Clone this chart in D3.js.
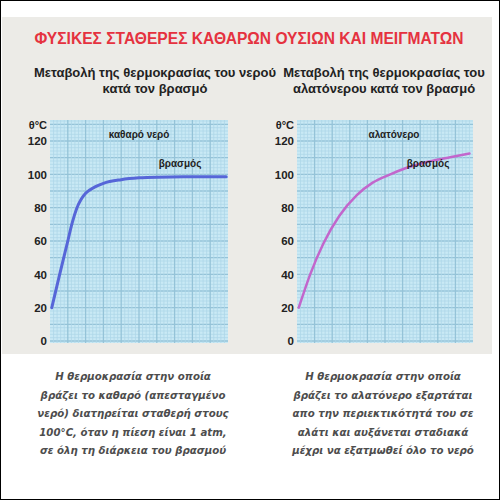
<!DOCTYPE html>
<html>
<head>
<meta charset="utf-8">
<script src="https://cdn.jsdelivr.net/npm/d3@7"></script>
<style>
body{margin:0;background:#fff;}
svg{display:block;}
</style>
</head>
<body>
<svg id="c" width="500" height="500"></svg>
<script>
// ---- data ----
const title = "ΦΥΣΙΚΕΣ ΣΤΑΘΕΡΕΣ ΚΑΘΑΡΩΝ ΟΥΣΙΩΝ ΚΑΙ ΜΕΙΓΜΑΤΩΝ";
const subtitleLeft = ["Μεταβολή της θερμοκρασίας του νερού", "κατά τον βρασμό"];
const subtitleRight = ["Μεταβολή της θερμοκρασίας του", "αλατόνερου κατά τον βρασμό"];
const yTicks = [0, 20, 40, 60, 80, 100, 120];
const yUnit = "θ°C";
const seriesLeftName = "καθαρό νερό";
const seriesRightName = "αλατόνερο";
const boilLabel = "βρασμός";
// time (arbitrary units 0-10) and temperature °C
const pureTime = [0.1, 0.5, 1.0, 1.25, 1.5, 1.75, 2.0, 2.5, 3.0, 4.0, 5.0, 6.0, 8.0, 9.9];
const pureTemp = [20, 38, 60, 71, 79.5, 85, 88.6, 92.3, 94.6, 96.8, 97.9, 98.3, 98.5, 98.5];
const saltTime = [0.1, 0.75, 1.5, 2.4, 3.4, 4.3, 5.3, 6.2, 7.5, 8.7, 9.8];
const saltTemp = [20, 40, 58.5, 75, 87.5, 95, 100, 103.8, 107.7, 110.3, 112.5];
const noteLeft = ["Η θερμοκρασία στην οποία", "βράζει το καθαρό (απεσταγμένο", "νερό) διατηρείται σταθερή στους", "100°C, όταν η πίεση είναι 1 atm,", "σε όλη τη διάρκεια του βρασμού"];
const noteRight = ["Η θερμοκρασία στην οποία", "βράζει το αλατόνερο εξαρτάται", "απο την περιεκτικότητά του σε", "αλάτι και αυξάνεται σταδιακά", "μέχρι να εξατμωθεί όλο το νερό"];

// ---- drawing ----
const svg = d3.select("#c");
svg.append("rect").attr("x",0).attr("y",0).attr("width",500).attr("height",500).attr("fill","#fff");
svg.append("rect").attr("x",2).attr("y",17).attr("width",490).attr("height",337).attr("fill","#ecebe7");

svg.append("text").attr("x",249).attr("y",43.5).attr("text-anchor","middle")
  .attr("font-family","Liberation Sans, Arial, sans-serif").attr("font-weight","bold")
  .attr("font-size",15.6).attr("fill","#e5323f").text(title);

function subtitle(lines, cx){
  lines.forEach((l,i)=>{
    svg.append("text").attr("x",cx).attr("y",77+i*16).attr("text-anchor","middle")
      .attr("font-family","Liberation Sans, Arial, sans-serif").attr("font-weight","bold")
      .attr("font-size",13).attr("fill","#222").text(l);
  });
}
subtitle(subtitleLeft, 155);
subtitle(subtitleRight, 384);

const y = d3.scaleLinear().domain([0,120]).range([341,141]);
const plotTop = 120, plotBottom = 343;

function chart(x0, x1, times, temps, color, sw, name, nameX, boilX){
  const x = d3.scaleLinear().domain([0,10]).range([x0, x1]);
  const g = svg.append("g");
  g.append("rect").attr("x",x0).attr("y",plotTop).attr("width",x1-x0).attr("height",plotBottom-plotTop).attr("fill","#c9e9f5");
  const yMin = y.invert(plotBottom), yMax = y.invert(plotTop);
  const hMinor = d3.range(Math.ceil(yMin/2)*2, yMax, 2);
  const vMinor = d3.range(0.2, 10, 0.2);
  const isMajY = d=>Math.abs(d%10)<1e-6;
  const isMajX = d=>Math.abs(d-Math.round(d))<1e-6;
  g.selectAll(".hm").data(hMinor).join("line")
    .attr("x1",x0).attr("x2",x1).attr("y1",d=>y(d)).attr("y2",d=>y(d))
    .attr("stroke", d=>isMajY(d) ? "#95c3d8" : "#afd7e9").attr("stroke-width", d=>isMajY(d)?1.3:0.8);
  g.selectAll(".vm").data(vMinor).join("line")
    .attr("y1",plotTop).attr("y2",plotBottom).attr("x1",d=>x(d)).attr("x2",d=>x(d))
    .attr("stroke", d=>isMajX(d) ? "#95c3d8" : "#afd7e9").attr("stroke-width", d=>isMajX(d)?1.3:0.8);

  const axis = d3.axisLeft(y).tickValues(yTicks).tickSize(0).tickPadding(3);
  const ag = g.append("g").attr("transform",`translate(${x0},0)`).call(axis);
  ag.select(".domain").remove();
  ag.selectAll("text").attr("font-family","Liberation Sans, Arial, sans-serif").attr("font-weight","bold")
    .attr("font-size",11.5).attr("fill","#222");
  g.append("text").attr("x",x0-3).attr("y",129).attr("text-anchor","end")
    .attr("font-family","Liberation Sans, Arial, sans-serif").attr("font-weight","bold")
    .attr("font-size",11).attr("fill","#222").text(yUnit);

  const line = d3.line().x(d=>x(d[0])).y(d=>y(d[1])).curve(d3.curveMonotoneX);
  g.append("path").datum(times.map((t,i)=>[t,temps[i]])).attr("d",line)
    .attr("fill","none").attr("stroke",color).attr("stroke-width",sw).attr("stroke-linecap","round");

  g.append("text").attr("x",nameX).attr("y",138).attr("text-anchor","middle")
    .attr("font-family","Liberation Sans, Arial, sans-serif").attr("font-weight","bold")
    .attr("font-size",10).attr("fill","#222").text(name);
  g.append("text").attr("x",boilX).attr("y",166.5).attr("text-anchor","middle")
    .attr("font-family","Liberation Sans, Arial, sans-serif").attr("font-weight","bold")
    .attr("font-size",10).attr("fill","#222").text(boilLabel);
}
chart(50, 228, pureTime, pureTemp, "#5666d8", 3, seriesLeftName, 139, 180);
chart(297, 473, saltTime, saltTemp, "#c266cc", 2.5, seriesRightName, 394, 428);

function note(lines, cx){
  lines.forEach((l,i)=>{
    svg.append("text").attr("x",cx).attr("y",380+i*18.5).attr("text-anchor","middle")
      .attr("font-family","DejaVu Sans, sans-serif").attr("font-style","italic").attr("font-weight","bold")
      .attr("font-size",10.2).attr("fill","#4d4d4d").text(l);
  });
}
note(noteLeft, 133);
note(noteRight, 383);

svg.append("rect").attr("x",0.5).attr("y",0.5).attr("width",499).attr("height",499)
  .attr("fill","none").attr("stroke","#000").attr("stroke-width",1);
</script>
</body>
</html>
